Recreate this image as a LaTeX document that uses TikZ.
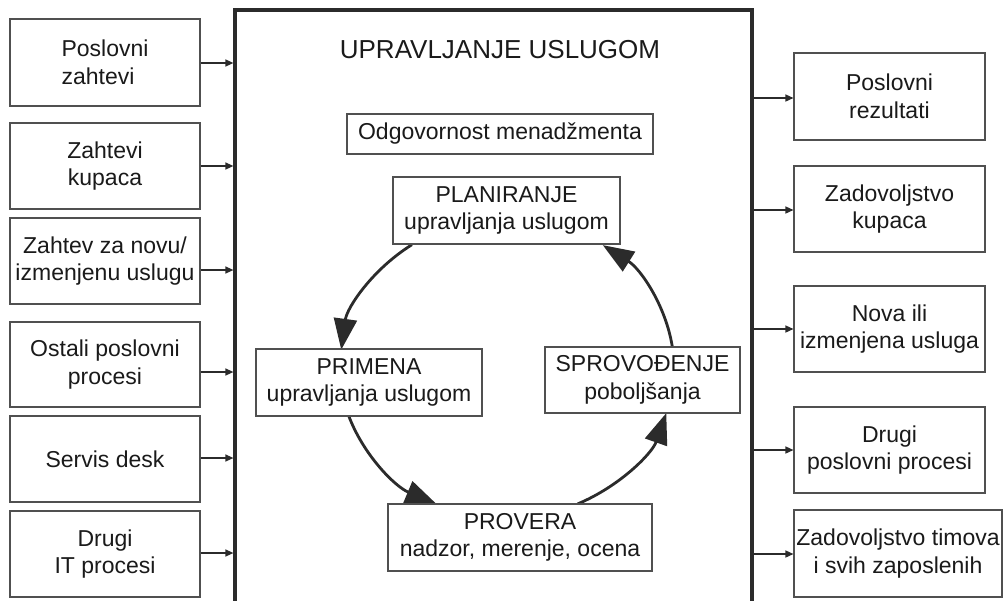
\documentclass[tikz,border=0pt]{standalone}
\usepackage{fontspec}
\setmainfont{Liberation Sans}
\usetikzlibrary{arrows.meta}
\definecolor{txt}{HTML}{1A1A1A}
\definecolor{bord}{HTML}{505050}
\definecolor{mainc}{HTML}{2B2B2B}
\begin{document}
\begin{tikzpicture}[x=1pt,y=1pt,
  box/.style={draw=bord,line width=1.1pt,rectangle,inner sep=0pt,align=center,text=txt,
    font=\fontsize{23}{27.5}\selectfont,fill=white},
  io/.style={draw=mainc,line width=1.4pt,-{Triangle[length=8pt,width=7pt]}},
  cyc/.style={draw=mainc,line width=2.8pt,-{Triangle[length=31pt,width=23pt]}}]
\useasboundingbox (0,0) rectangle (1003,-600);
% main frame
\node[draw=mainc,line width=3.2pt,rectangle,inner sep=0pt,minimum width=517pt,minimum height=605pt] (main) at (493.5,-312.5) {};
% left inputs
\node[box,minimum width=190pt,minimum height=87pt,align=left] (l1) at (105,-62.5) {Poslovni\\zahtevi};
\node[box,minimum width=190pt,minimum height=86pt] (l2) at (105,-166) {Zahtevi\\kupaca};
\node[box,minimum width=190pt,minimum height=86pt] (l3) at (105,-261) {Zahtev za novu/\\izmenjenu uslugu};
\node[box,minimum width=190pt,minimum height=85pt] (l4) at (105,-364.5) {Ostali poslovni\\procesi};
\node[box,minimum width=190pt,minimum height=86pt] (l5) at (105,-459) {Servis desk};
\node[box,minimum width=190pt,minimum height=86pt] (l6) at (105,-554) {Drugi\\IT procesi};
% right outputs
\node[box,minimum width=191pt,minimum height=87pt] (r1) at (889.5,-96.5) {Poslovni\\rezultati};
\node[box,minimum width=191pt,minimum height=86pt] (r2) at (889.5,-209) {Zadovoljstvo\\kupaca};
\node[box,minimum width=191pt,minimum height=86pt] (r3) at (889.5,-329) {Nova ili\\izmenjena usluga};
\node[box,minimum width=191pt,minimum height=86pt] (r4) at (889.5,-450) {Drugi\\poslovni procesi};
\node[box,minimum width=208pt,minimum height=87pt] (r5) at (898,-553.5) {Zadovoljstvo timova\\i svih zaposlenih};
% inner
\node[text=txt,font=\fontsize{26}{30}\selectfont,inner sep=0pt] (title) at (500,-50) {UPRAVLJANJE USLUGOM};
\node[box,minimum width=306pt,minimum height=40pt] (odg) at (500,-134) {Odgovornost menadžmenta};
\coordinate (cc) at (507,-368);
\draw[cyc] (cc) ++(124.7:167 and 150) arc[start angle=124.7,end angle=173,x radius=167,y radius=150];
\draw[cyc] (cc) ++(198.5:167 and 150) arc[start angle=198.5,end angle=245,x radius=167,y radius=150];
\draw[cyc] (cc) ++(295:167 and 150) arc[start angle=295,end angle=342.5,x radius=167,y radius=150];
\draw[cyc] (cc) ++(8:167 and 150) arc[start angle=8,end angle=55,x radius=167,y radius=150];
\node[box,minimum width=227pt,minimum height=67pt] (plan) at (506.5,-210.5) {PLANIRANJE\\upravljanja uslugom};
\node[box,minimum width=226pt,minimum height=67pt] (prim) at (369,-382.5) {PRIMENA\\upravljanja uslugom};
\node[box,minimum width=195pt,minimum height=66pt] (spro) at (642.5,-380) {SPROVOĐENJE\\poboljšanja};
\node[box,minimum width=264pt,minimum height=67pt] (prov) at (520,-537.5) {PROVERA\\nadzor, merenje, ocena};
% input arrows
\coordinate (a1) at ([yshift=-0.5pt]l1.east);
\coordinate (a2) at (l2.east);
\coordinate (a3) at ([yshift=-9pt]l3.east);
\coordinate (a4) at ([yshift=-7.5pt]l4.east);
\coordinate (a5) at ([yshift=1pt]l5.east);
\coordinate (a6) at ([yshift=1pt]l6.east);
\foreach \a in {a1,a2,a3,a4,a5,a6}{\draw[io] (\a) -- (\a -| main.west);}
% output arrows
\coordinate (b1) at ([yshift=-1.5pt]r1.west);
\coordinate (b2) at ([yshift=-1pt]r2.west);
\coordinate (b3) at (r3.west);
\coordinate (b4) at (r4.west);
\coordinate (b5) at ([yshift=-0.5pt]r5.west);
\foreach \b in {b1,b2,b3,b4,b5}{\draw[io] (\b -| main.east) -- (\b);}
\end{tikzpicture}
\end{document}
